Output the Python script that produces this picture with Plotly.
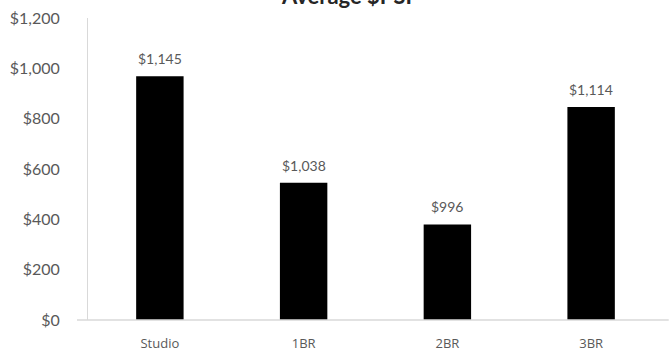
import plotly.graph_objects as go

# Average price per square foot by unit type
unit_types = ["Studio", "1BR", "2BR", "3BR"]
avg_psf = [1145, 1038, 996, 1114]
value_labels = ["$1,145", "$1,038", "$996", "$1,114"]

# Scale shown on the left axis
scale_ticks = [0, 200, 400, 600, 800, 1000, 1200]
scale_labels = ["$0", "$200", "$400", "$600", "$800", "$1,000", "$1,200"]

# Bars are drawn on a value axis starting at BAR_BASE; the left scale
# ($0 – $1,200) spans the same plot height.
BAR_BASE = 900
BAR_TOP = 1203.5
scale_to_axis = [BAR_BASE + s * (BAR_TOP - BAR_BASE) / scale_ticks[-1] for s in scale_ticks]

GRAY_TEXT = "#595959"
AXIS_LINE = "#d9d9d9"

fig = go.Figure()
fig.add_trace(go.Bar(
    x=unit_types,
    y=[v - BAR_BASE for v in avg_psf],
    base=BAR_BASE,
    marker=dict(color="#000000", line=dict(width=0)),
    width=0.33,
    hoverinfo="x+text",
    hovertext=value_labels,
    showlegend=False,
))

annotations = [
    dict(
        x=cat, y=val, xref="x", yref="y",
        text=lab, showarrow=False,
        yanchor="bottom", yshift=7,
        font=dict(family="Lato, sans-serif", size=14, color=GRAY_TEXT),
    )
    for cat, val, lab in zip(unit_types, avg_psf, value_labels)
]
annotations.append(dict(
    x=0.455, y=1.0, xref="paper", yref="paper",
    text="<b>Average $PSF</b>", showarrow=False,
    yanchor="bottom", yshift=7,
    font=dict(family="Lato, sans-serif", size=22, color="#262626"),
))

fig.update_layout(
    width=669, height=352,
    margin=dict(l=88, r=6, t=18, b=32, autoexpand=False),
    paper_bgcolor="white",
    plot_bgcolor="white",
    xaxis=dict(
        showgrid=False, zeroline=False, showline=False, automargin=False,
        ticks="", ticklabelstandoff=14,
        tickfont=dict(family="Open Sans, sans-serif", size=13, color=GRAY_TEXT),
    ),
    yaxis=dict(
        range=[BAR_BASE, BAR_TOP],
        tickvals=scale_to_axis, ticktext=scale_labels,
        showgrid=False, zeroline=False, automargin=False,
        showline=True, linecolor=AXIS_LINE, linewidth=1,
        ticks="", ticklabelstandoff=24,
        tickfont=dict(family="Lato, sans-serif", size=16, color=GRAY_TEXT),
    ),
    annotations=annotations,
    shapes=[dict(
        type="line", xref="paper", yref="paper",
        x0=-11 / 575, x1=1.01, y0=0, y1=0,
        line=dict(color=AXIS_LINE, width=1.5),
    )],
)

fig.write_html("out.html")
